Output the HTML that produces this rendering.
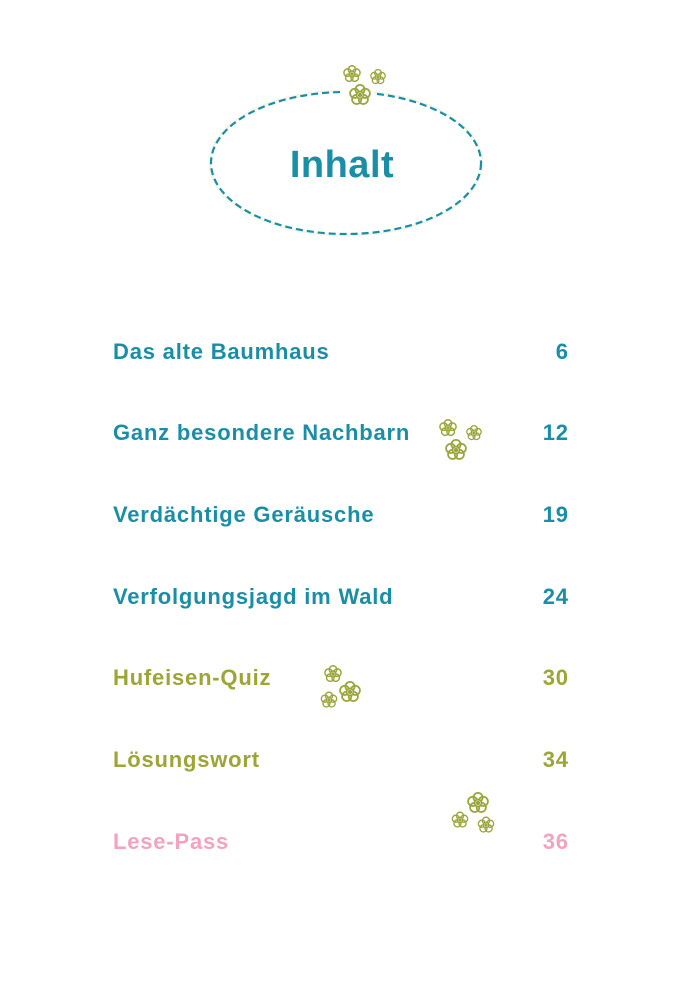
<!DOCTYPE html>
<html><head><meta charset="utf-8"><style>
body{margin:0;background:#fff;}
.p{position:relative;width:682px;height:1000px;overflow:hidden;font-family:"Liberation Sans",sans-serif;font-weight:bold;}
.r{position:absolute;left:113px;width:455px;font-size:22px;letter-spacing:0.8px;line-height:24px;display:flex;justify-content:space-between;}
.r span:last-child{margin-right:-0.8px}
.t{color:#1a8ea6}.o{color:#9da536}.k{color:#f2a3bf}
svg{position:absolute;left:0;top:0}
</style></head><body><div class="p">
<svg width="682" height="1000">
<defs>
<g id="f" fill="none" stroke="#9aa53a" stroke-width="1.6">
<circle cx="0" cy="-5" r="4.2"/><circle cx="4.8" cy="-1.5" r="4.2"/><circle cx="3" cy="4" r="4.2"/><circle cx="-3" cy="4" r="4.2"/><circle cx="-4.8" cy="-1.5" r="4.2"/>
<circle cx="0" cy="0" r="3.2" fill="#fff"/><circle cx="0" cy="0" r="1.2" fill="#9aa53a"/>
</g>
</defs>
<ellipse cx="346" cy="163" rx="135" ry="71" fill="none" stroke="#f3f6e6" stroke-width="5"/>
<ellipse cx="346" cy="163" rx="135" ry="71" fill="#fff" stroke="#1a8ea6" stroke-width="2.2" stroke-dasharray="7,4"/>
<rect x="340" y="82" width="34" height="20" fill="#fff"/>
<use href="#f" transform="translate(352,74) scale(0.9)"/>
<use href="#f" transform="translate(378,77) scale(0.8)"/>
<use href="#f" transform="translate(360,95) scale(1.1)"/>
<use href="#f" transform="translate(448,428) scale(0.9)"/>
<use href="#f" transform="translate(474,433) scale(0.8)"/>
<use href="#f" transform="translate(456,450) scale(1.1)"/>
<use href="#f" transform="translate(333,674) scale(0.9)"/>
<use href="#f" transform="translate(350,692) scale(1.1)"/>
<use href="#f" transform="translate(329,700) scale(0.85)"/>
<use href="#f" transform="translate(478,803) scale(1.1)"/>
<use href="#f" transform="translate(460,820) scale(0.85)"/>
<use href="#f" transform="translate(486,825) scale(0.85)"/>
<text x="342" y="177" text-anchor="middle" font-family="Liberation Sans" font-weight="bold" font-size="38" letter-spacing="0.5" fill="#1a8ea6">Inhalt</text>
</svg>
<div class="r t" style="top:340px"><span>Das alte Baumhaus</span><span>6</span></div>
<div class="r t" style="top:421px"><span>Ganz besondere Nachbarn</span><span>12</span></div>
<div class="r t" style="top:503px"><span>Verdächtige Geräusche</span><span>19</span></div>
<div class="r t" style="top:585px"><span>Verfolgungsjagd im Wald</span><span>24</span></div>
<div class="r o" style="top:666px"><span>Hufeisen-Quiz</span><span>30</span></div>
<div class="r o" style="top:748px"><span>Lösungswort</span><span>34</span></div>
<div class="r k" style="top:830px"><span>Lese-Pass</span><span>36</span></div>
</div></body></html>
